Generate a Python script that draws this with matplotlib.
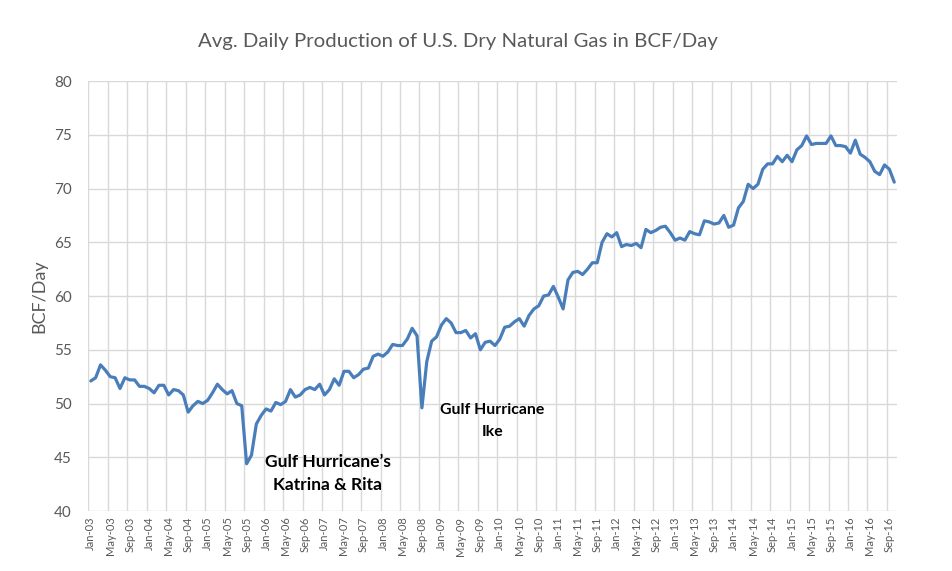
import numpy as np
import pandas as pd
import matplotlib
matplotlib.use("Agg")
import matplotlib.pyplot as plt
from matplotlib.ticker import MultipleLocator, FixedLocator

plt.rcParams['font.family'] = ['Lato', 'DejaVu Sans']

# monthly average dry gas production, BCF/day, Jan-03 .. Oct-16
start_month = '2003-01'
bcf_per_day = [
    52.1, 52.4, 53.6, 53.1, 52.5, 52.4, 51.4, 52.4, 52.2, 52.2, 51.6, 51.6,
    51.4, 51.0, 51.7, 51.7, 50.8, 51.3, 51.2, 50.8, 49.2, 49.8, 50.2, 50.0,
    50.3, 51.0, 51.8, 51.3, 50.9, 51.2, 50.0, 49.8, 44.4, 45.2, 48.1, 48.9,
    49.5, 49.3, 50.1, 49.9, 50.2, 51.3, 50.6, 50.8, 51.3, 51.5, 51.3, 51.8,
    50.8, 51.3, 52.3, 51.7, 53.0, 53.0, 52.4, 52.7, 53.2, 53.3, 54.4, 54.6,
    54.4, 54.8, 55.5, 55.4, 55.4, 56.0, 57.0, 56.3, 49.6, 53.9, 55.8, 56.2,
    57.3, 57.9, 57.5, 56.6, 56.6, 56.8, 56.1, 56.5, 55.0, 55.7, 55.8, 55.4,
    56.0, 57.1, 57.2, 57.6, 57.9, 57.2, 58.2, 58.8, 59.1, 60.0, 60.1, 60.9,
    59.9, 58.8, 61.5, 62.2, 62.3, 62.0, 62.5, 63.1, 63.1, 65.0, 65.8, 65.5,
    65.9, 64.6, 64.8, 64.7, 64.9, 64.5, 66.2, 65.9, 66.1, 66.4, 66.5, 65.9,
    65.2, 65.4, 65.2, 66.0, 65.8, 65.7, 67.0, 66.9, 66.7, 66.8, 67.5, 66.4,
    66.6, 68.2, 68.8, 70.4, 70.0, 70.4, 71.8, 72.3, 72.3, 73.0, 72.5, 73.1,
    72.5, 73.6, 74.0, 74.9, 74.1, 74.2, 74.2, 74.2, 74.9, 74.0, 74.0, 73.9,
    73.3, 74.5, 73.2, 72.9, 72.5, 71.6, 71.3, 72.2, 71.8, 70.6,
]

title = 'Avg. Daily Production of U.S. Dry Natural Gas in BCF/Day'
y_label = 'BCF/Day'
katrina_note = 'Gulf Hurricane\u2019s\nKatrina & Rita'
ike_note = 'Gulf Hurricane\nIke'

months = pd.date_range(start_month, periods=len(bcf_per_day), freq='MS')
month_labels = [m.strftime('%b-%y') for m in months]
x = np.arange(len(bcf_per_day))

grid_col = '#D9D9D9'
text_col = '#595959'
line_col = '#4A7EBB'

fig = plt.figure(figsize=(9.52, 5.71), dpi=100)
ax = fig.add_axes([0.0928, 0.105, 0.8491, 0.753])

ax.plot(x, bcf_per_day, color=line_col, lw=2.3, solid_joinstyle='round',
        solid_capstyle='round', zorder=3)

# categories sit between the vertical gridlines, like Excel
ax.set_xlim(-0.5, len(x) - 0.5)
ax.set_ylim(40, 80)
ax.yaxis.set_major_locator(MultipleLocator(5))

ax.set_xticks(x[::4])
ax.set_xticklabels(month_labels[::4], rotation=90, fontsize=8, color=text_col)
ax.xaxis.set_minor_locator(FixedLocator(np.arange(-0.5, len(x) - 1, 4)))
ax.tick_params(axis='x', which='both', length=0, pad=4)
ax.tick_params(axis='y', length=0, pad=12, labelsize=11, labelcolor=text_col)

ax.grid(axis='y', which='major', color=grid_col, lw=1)
ax.grid(axis='x', which='minor', color=grid_col, lw=1)
ax.grid(axis='x', which='major', visible=False)
for s in ax.spines.values():
    s.set_visible(False)

ax.set_ylabel(y_label, fontsize=13, color=text_col, labelpad=5)

ax.text(48.7, 43.5, katrina_note, ha='center', va='center', fontsize=12.5,
        fontweight='bold', color='black', linespacing=1.55)
ax.text(82.5, 48.4, ike_note, ha='center', va='center', fontsize=11.4,
        fontweight='bold', color='black', linespacing=1.75)

fig.text(458 / 952, 1 - 42 / 571, title, ha='center', va='center',
         fontsize=14.7, color=text_col)

fig.savefig('out.png', dpi=100)
